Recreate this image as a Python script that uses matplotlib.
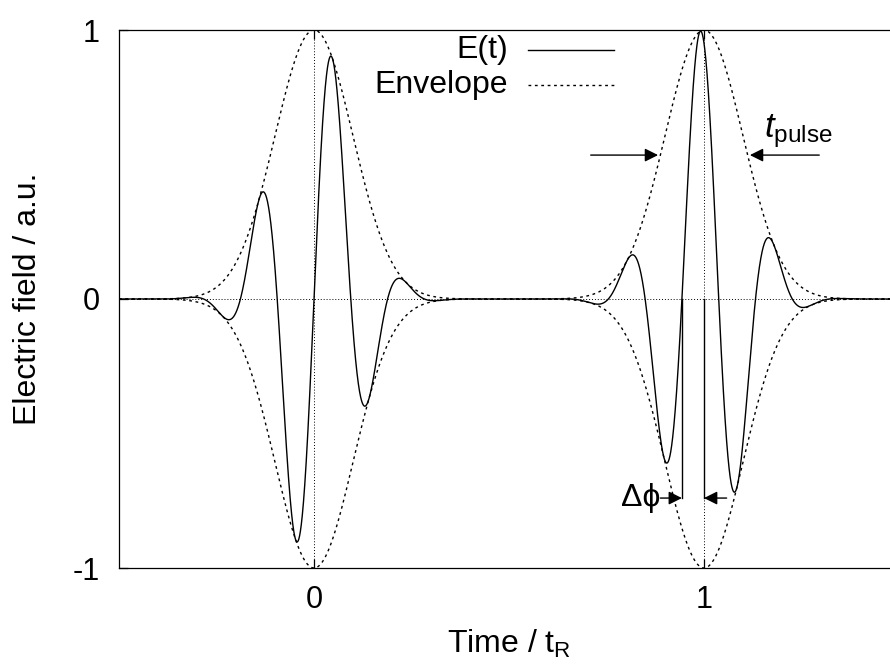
import numpy as np
import matplotlib

matplotlib.use('Agg')
import matplotlib.pyplot as plt

plt.rcParams['font.family'] = ['Liberation Sans', 'DejaVu Sans']
plt.rcParams['mathtext.fontset'] = 'custom'
plt.rcParams['mathtext.rm'] = 'Liberation Sans'
plt.rcParams['mathtext.it'] = 'Liberation Sans:italic'
plt.rcParams['axes.unicode_minus'] = False

# pulse train, time in units of the round trip time t_R
pulse_centers = [0.0, 1.0]
pulse_sigma = 0.1        # gaussian width of the envelope
carrier_freq = 5.3       # carrier cycles per round trip
t_range = [-0.5, 1.5]
x_ticks = [0, 1]
y_ticks = [-1, 0, 1]
legend_labels = ['E(t)', 'Envelope']

t = np.linspace(t_range[0], t_range[1], 6001)
envelope = sum(np.exp(-(t - c) ** 2 / (2 * pulse_sigma ** 2)) for c in pulse_centers)
field = envelope * np.sin(2 * np.pi * carrier_freq * t)

# half width at half maximum of the second pulse, and the carrier zero crossing before it
hwhm = np.sqrt(2 * np.log(2)) * pulse_sigma
t_slip = np.floor(2 * carrier_freq * pulse_centers[1]) / (2 * carrier_freq)

env_style = dict(color='black', lw=1.0, linestyle=(0, (2, 2.6)))

fig = plt.figure(figsize=(8.9, 6.69), dpi=100)
ax = fig.add_axes([119 / 890, 101 / 669, 780 / 890, 538 / 669])

ax.plot(t, field, color='black', lw=1.0)
ax.plot(t, envelope, **env_style)
ax.plot(t, -envelope, **env_style)

ax.set_xlim(t_range)
ax.set_ylim(-1, 1)
ax.set_xticks(x_ticks)
ax.set_yticks(y_ticks)
ax.grid(True, color='black', lw=0.7, linestyle=(0, (1, 2)))
ax.set_axisbelow(True)
ax.tick_params(direction='in', length=6.5, width=0.9, top=True, right=True,
               labelsize=22)
ax.tick_params(axis='x', pad=12)
ax.tick_params(axis='y', pad=14)
for sp in ax.spines.values():
    sp.set_linewidth(0.9)

ax.set_xlabel('Time / t$_{\\rm R}$', fontsize=23)
ax.set_ylabel('Electric field / a.u.', fontsize=23)
ax.xaxis.set_label_coords(0.5, -0.112)
ax.yaxis.set_label_coords(-0.098, 0.5)

# key, text right aligned with the line sample after it
key_y = [0.9628, 0.8978]
ax.text(0.4987, key_y[0], legend_labels[0], transform=ax.transAxes,
        ha='right', va='center', fontsize=23)
ax.plot([0.5244, 0.6346], [key_y[0]] * 2, transform=ax.transAxes,
        color='black', lw=1.0, clip_on=False)
ax.text(0.4987, key_y[1], legend_labels[1], transform=ax.transAxes,
        ha='right', va='center', fontsize=23)
ax.plot([0.5244, 0.6346], [key_y[1]] * 2, transform=ax.transAxes,
        clip_on=False, **env_style)

arrow = dict(arrowstyle='-|>', color='black', lw=1.0, mutation_scale=20,
             shrinkA=0, shrinkB=0)

# pulse duration
y_pulse = 0.535
ax.annotate('', xy=(pulse_centers[1] - hwhm, y_pulse), xytext=(0.7095, y_pulse),
            arrowprops=arrow)
ax.annotate('', xy=(pulse_centers[1] + hwhm, y_pulse), xytext=(1.2955, y_pulse),
            arrowprops=arrow)
ax.text(1.154, 0.6, '$t_{\\rm pulse}$', ha='left', va='baseline', fontsize=25)

# carrier-envelope phase slip
y_phase = -0.74
ax.plot([t_slip, t_slip], [0, y_phase], color='black', lw=1.0)
ax.plot([pulse_centers[1]] * 2, [0, y_phase], color='black', lw=1.0)
ax.annotate('', xy=(t_slip, y_phase), xytext=(0.888, y_phase), arrowprops=arrow)
ax.annotate('', xy=(pulse_centers[1], y_phase), xytext=(1.058, y_phase),
            arrowprops=arrow)
ax.text(0.889, y_phase, 'Δϕ', ha='right', va='center', fontsize=23)

plt.savefig('out.png', dpi=100)
